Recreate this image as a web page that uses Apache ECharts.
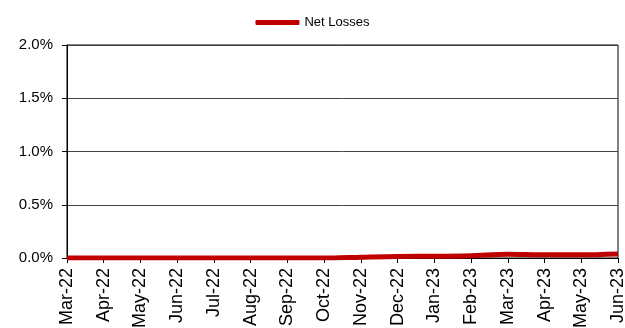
<!DOCTYPE html>
<html>
<head>
<meta charset="utf-8">
<script src="https://cdn.jsdelivr.net/npm/echarts@6/dist/echarts.min.js"></script>
<style>
  html, body { margin: 0; padding: 0; background: #fff; }
  #chart { width: 625px; height: 328px; }
</style>
</head>
<body>
<div id="chart"></div>
<script>
// Monthly categories
const months = ['Mar-22', 'Apr-22', 'May-22', 'Jun-22', 'Jul-22', 'Aug-22', 'Sep-22', 'Oct-22',
                'Nov-22', 'Dec-22', 'Jan-23', 'Feb-23', 'Mar-23', 'Apr-23', 'May-23', 'Jun-23'];
// Net losses, in percent
const netLosses = [0.0, 0.0, 0.0, 0.0, 0.0, 0.0, 0.0, 0.0,
                   0.008, 0.015, 0.016, 0.022, 0.036, 0.030, 0.030, 0.038];
// Value axis ticks, in percent
const yTicks = [0.0, 0.5, 1.0, 1.5, 2.0];

const chart = echarts.init(document.getElementById('chart'));
const font = 'Liberation Sans, Arial, sans-serif';

chart.setOption({
  animation: false,
  textStyle: { fontFamily: font },
  legend: {
    top: 11,
    left: 'center',
    itemWidth: 44,
    itemHeight: 5,
    itemGap: 4,
    textStyle: { fontSize: 13, color: '#000', fontFamily: font },
    data: [{ name: 'Net Losses', icon: 'roundRect' }]
  },
  grid: {
    left: 67, right: 7, top: 45, bottom: 70,
    outerBoundsMode: 'none',
    containLabel: false,
    show: true, borderColor: '#000', borderWidth: 1, backgroundColor: 'transparent'
  },
  xAxis: {
    type: 'category',
    data: months,
    boundaryGap: false,
    axisLine: { lineStyle: { color: '#000', width: 1 } },
    axisTick: { show: true, alignWithLabel: true, length: 5, lineStyle: { color: '#000' } },
    axisLabel: { rotate: 90, fontSize: 18, color: '#000', margin: 10, fontFamily: font, interval: 0 }
  },
  yAxis: {
    type: 'value',
    min: yTicks[0],
    max: yTicks[yTicks.length - 1],
    interval: 0.5,
    axisLine: { show: true, lineStyle: { color: '#000', width: 1 } },
    axisTick: { show: true, length: 5, lineStyle: { color: '#000' } },
    axisLabel: {
      fontSize: 15, color: '#000', margin: 14, fontFamily: font,
      formatter: v => v.toFixed(1) + '%'
    },
    splitLine: { show: true, lineStyle: { color: '#444', width: 1 } }
  },
  series: [{
    name: 'Net Losses',
    type: 'line',
    data: netLosses,
    smooth: 0.3,
    symbol: 'none',
    lineStyle: { color: '#c00000', width: 5 },
    itemStyle: { color: '#c00000' }
  }]
});
</script>
</body>
</html>
